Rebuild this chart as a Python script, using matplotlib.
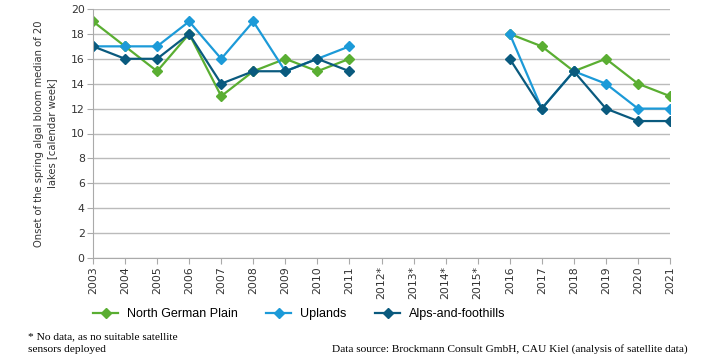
import matplotlib.pyplot as plt
import numpy as np

years = ["2003", "2004", "2005", "2006", "2007", "2008", "2009", "2010", "2011",
         "2012*", "2013*", "2014*", "2015*",
         "2016", "2017", "2018", "2019", "2020", "2021"]
nan = np.nan
north_german_plain = [19, 17, 15, 18, 13, 15, 16, 15, 16, nan, nan, nan, nan, 18, 17, 15, 16, 14, 13]
uplands = [17, 17, 17, 19, 16, 19, 15, 16, 17, nan, nan, nan, nan, 18, 12, 15, 14, 12, 12]
alps = [17, 16, 16, 18, 14, 15, 15, 16, 15, nan, nan, nan, nan, 16, 12, 15, 12, 11, 11]

series = [
    ("North German Plain", north_german_plain, "#5aae32"),
    ("Uplands", uplands, "#1c9ad8"),
    ("Alps-and-foothills", alps, "#0a5a7e"),
]

plt.rcParams['font.family'] = ['DejaVu Sans']
fig = plt.figure(figsize=(7.07, 3.54), dpi=100)
ax = fig.add_axes([93 / 707, 1 - 258 / 354, (670 - 93) / 707, (258 - 9) / 354])

x = np.arange(len(years))
for name, vals, col in series:
    ax.plot(x, vals, color=col, lw=1.6, marker='D', ms=5, label=name)

ax.set_xlim(0, len(years) - 1)
ax.set_ylim(0, 20)
ax.set_yticks(range(0, 21, 2))
ax.set_xticks(x)
ax.set_xticklabels(years, rotation=90)
ax.tick_params(axis='both', labelsize=7.8, labelcolor='#333333', length=4,
               color='#aaaaaa', pad=2)
ax.grid(axis='y', color='#bbbbbb', lw=1)
ax.set_axisbelow(True)
for s in ['top', 'right']:
    ax.spines[s].set_visible(False)
ax.spines['left'].set_color('#aaaaaa')
ax.spines['bottom'].set_color('#aaaaaa')

ax.set_ylabel("Onset of the spring algal bloom median of 20\nlakes [calendar week]",
              fontsize=7.2, color='#333333', labelpad=10, linespacing=1.4)

fig.legend(loc='center left', bbox_to_anchor=(93 / 707, 1 - 314 / 354), ncol=3,
           frameon=False, borderpad=0, borderaxespad=0,
           prop={'family': 'Liberation Sans', 'size': 9},
           handlelength=2.0, handletextpad=0.7, columnspacing=2.3)

fig.text(28 / 707, 1 - 337 / 354, "* No data, as no suitable satellite",
         fontsize=8.2, family='Liberation Serif', va='center')
fig.text(28 / 707, 1 - 349 / 354, "sensors deployed",
         fontsize=8.2, family='Liberation Serif', va='center')
fig.text(688 / 707, 1 - 349 / 354,
         "Data source: Brockmann Consult GmbH, CAU Kiel (analysis of satellite data)",
         fontsize=8.2, family='Liberation Serif', va='center', ha='right')

fig.savefig("out.png", dpi=100)
